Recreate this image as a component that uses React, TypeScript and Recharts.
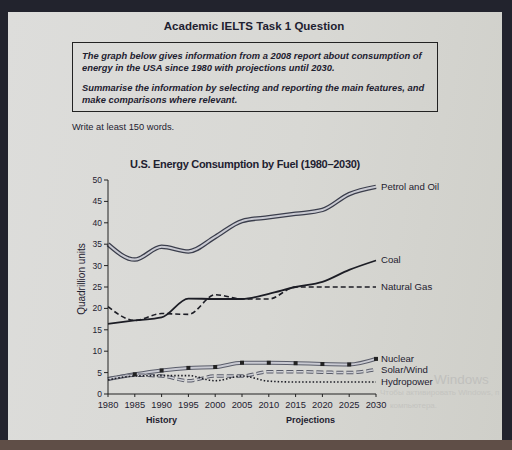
import { LineChart, Line, XAxis, YAxis } from 'recharts';

const years = [1980, 1985, 1990, 1995, 2000, 2005, 2010, 2015, 2020, 2025, 2030];
const petrol = [35, 31.4, 34.4, 33.3, 36.7, 40.4, 41.3, 42.1, 43, 46.7, 48.4];
const coal = [16.4, 17.2, 17.9, 22.3, 22.2, 22.2, 23.4, 25, 26.2, 29, 31.2];
const gas = [20.4, 17.2, 18.8, 18.6, 23.2, 22.2, 22.2, 25, 25, 25, 25];
const nuclear = [3.5, 4.6, 5.5, 6.1, 6.3, 7.3, 7.3, 7.2, 7, 6.9, 8.2];
const solar = [3.5, 4.4, 4.2, 3.1, 4.2, 4.2, 5.2, 5.2, 5.1, 5, 5.7];
const hydro = [3.3, 4.2, 4.3, 4.3, 3.1, 4.2, 3, 2.8, 2.8, 2.8, 2.8];
const yTicks = [0, 5, 10, 15, 20, 25, 30, 35, 40, 45, 50];

const data = years.map((year, i) => ({
    year,
    petrol: petrol[i],
    coal: coal[i],
    gas: gas[i],
    nuclear: nuclear[i],
    solar: solar[i],
    hydro: hydro[i]
}));

const ink = '#1e2130';
const font = '"Liberation Sans", Arial, sans-serif';

// name label only at the last point of a line
const endLabel = (name: string) => (props: any) => {
    if (props.index !== data.length - 1) return null;
    return (
        <text x={props.x + 5} y={props.y} dy={3} fontSize={9.6} fill={ink} fontFamily={font}>
            {name}
        </text>
    );
};

const squareDot = (props: any) => {
    if (props.index === 0) return null;
    return <rect key={`sq-${props.index}`} x={props.cx - 2} y={props.cy - 2} width={4} height={4} fill="#222" />;
};

const boxText = { position: 'absolute' as const, left: 82, width: 350, fontSize: 9.35, fontWeight: 'bold' as const, fontStyle: 'italic' as const, lineHeight: '12px', whiteSpace: 'nowrap' as const };

export default function App() {
    return (
        <div style={{ position: 'fixed', left: 0, top: 0, width: 512, height: 450, background: '#22232d', overflow: 'hidden', fontFamily: font, color: ink }}>
            <div style={{ position: 'absolute', left: 0, top: 440, width: 512, height: 10, background: '#5f4e47' }} />
            <div
                style={{
                    position: 'absolute',
                    left: 8,
                    top: 12,
                    width: 494,
                    height: 428,
                    background: 'linear-gradient(100deg, #dddddb 0%, #d8d8d4 55%, #cfcfc9 100%)'
                }}
            />
            <div style={{ position: 'absolute', left: 0, top: 20, width: 508, textAlign: 'center', fontSize: 11.5, fontWeight: 'bold' }}>
                Academic IELTS Task 1 Question
            </div>
            <div
                style={{
                    position: 'absolute',
                    left: 72,
                    top: 42,
                    width: 366,
                    height: 70,
                    border: '1.5px solid #222',
                    boxSizing: 'border-box'
                }}
            />
            <div style={{ ...boxText, top: 50 }}>
                The graph below gives information from a 2008 report about consumption of
                <br />
                energy in the USA since 1980 with projections until 2030.
            </div>
            <div style={{ ...boxText, top: 82 }}>
                Summarise the information by selecting and reporting the main features, and
                <br />
                make comparisons where relevant.
            </div>
            <div style={{ position: 'absolute', left: 72, top: 122, fontSize: 9.3 }}>Write at least 150 words.</div>
            <div style={{ position: 'absolute', left: 0, top: 158, width: 490, textAlign: 'center', fontSize: 11, letterSpacing: -0.3, fontWeight: 'bold' }}>
                U.S. Energy Consumption by Fuel (1980–2030)
            </div>
            <div
                style={{
                    position: 'absolute',
                    left: 82 - 60,
                    top: 279 - 7,
                    width: 120,
                    textAlign: 'center',
                    fontSize: 10,
                    lineHeight: '14px',
                    transform: 'rotate(-90deg)'
                }}
            >
                Quadrillion units
            </div>
            <div style={{ position: 'absolute', left: 146, top: 415, fontSize: 9, fontWeight: 'bold' }}>History</div>
            <div style={{ position: 'absolute', left: 286, top: 415, fontSize: 9, fontWeight: 'bold' }}>Projections</div>
            <div style={{ position: 'absolute', left: 434, top: 372, fontSize: 13.5, color: '#c0c0bd' }}>Windows</div>
            <div style={{ position: 'absolute', left: 380, top: 388, fontSize: 8, color: '#c4c4c0', whiteSpace: 'nowrap' }}>
                Чтобы активировать Windows, п
            </div>
            <div style={{ position: 'absolute', left: 390, top: 401, fontSize: 8, color: '#c4c4c0' }}>компьютера.</div>

            <LineChart
                width={512}
                height={450}
                data={data}
                margin={{ top: 180, right: 136, bottom: 26, left: 48 }}
                style={{ position: 'absolute', left: 0, top: 0 }}
            >
                <XAxis
                    dataKey="year"
                    type="number"
                    domain={[1980, 2030]}
                    ticks={years}
                    interval={0}
                    height={30}
                    tickSize={3}
                    tickMargin={4}
                    stroke="#222"
                    tick={{ fontSize: 9.3, fill: ink, fontFamily: font }}
                />
                <YAxis
                    domain={[0, 50]}
                    ticks={yTicks}
                    interval={0}
                    width={60}
                    tickSize={4}
                    tickMargin={2}
                    stroke="#222"
                    tick={{ fontSize: 8.5, fill: ink, fontFamily: font }}
                />
                <Line type="monotone" dataKey="petrol" stroke="#3b3e4c" strokeWidth={4.5} dot={false} isAnimationActive={false} />
                <Line type="monotone" dataKey="petrol" stroke="#c9cad2" strokeWidth={2} dot={false} isAnimationActive={false} label={endLabel('Petrol and Oil')} />
                <Line type="monotone" dataKey="coal" stroke="#1c1d25" strokeWidth={1.8} dot={false} isAnimationActive={false} label={endLabel('Coal')} />
                <Line type="monotone" dataKey="gas" stroke="#1c1d25" strokeWidth={1.6} strokeDasharray="5 3" dot={false} isAnimationActive={false} label={endLabel('Natural Gas')} />
                <Line type="monotone" dataKey="nuclear" stroke="#5a5d6a" strokeWidth={4} dot={false} isAnimationActive={false} />
                <Line type="monotone" dataKey="nuclear" stroke="#c9cad2" strokeWidth={2} dot={squareDot} isAnimationActive={false} label={endLabel('Nuclear')} />
                <Line type="monotone" dataKey="solar" stroke="#5a5d6a" strokeWidth={3.5} strokeDasharray="7 3" dot={false} isAnimationActive={false} />
                <Line type="monotone" dataKey="solar" stroke="#cfd0d6" strokeWidth={1.5} strokeDasharray="7 3" dot={false} isAnimationActive={false} label={endLabel('Solar/Wind')} />
                <Line type="monotone" dataKey="hydro" stroke="#1c1d25" strokeWidth={1.6} strokeDasharray="1.5 2" dot={false} isAnimationActive={false} label={endLabel('Hydropower')} />
            </LineChart>
        </div>
    );
}
